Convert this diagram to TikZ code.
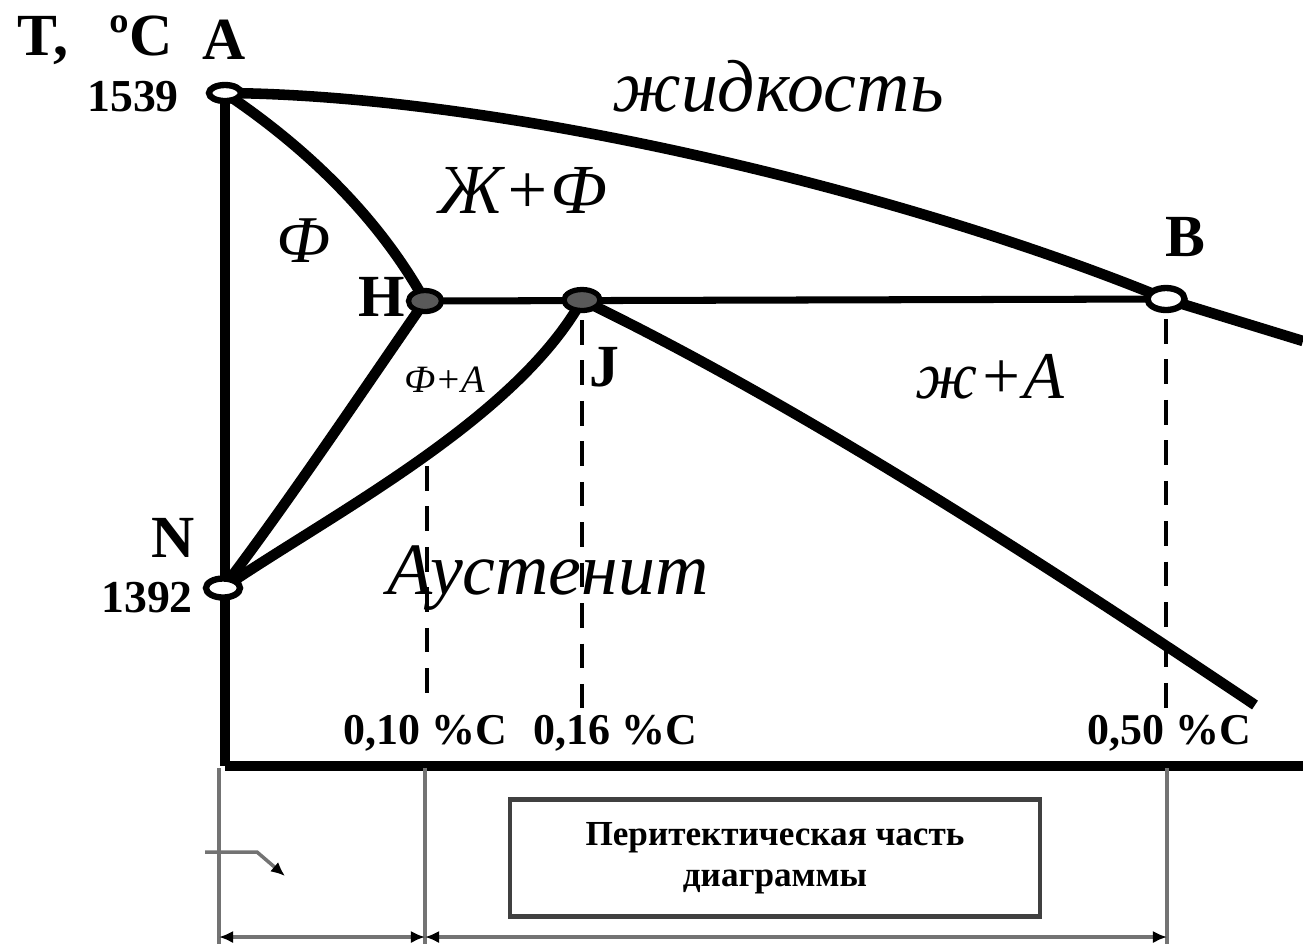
\documentclass[tikz,border=0pt]{standalone}
\usepackage{fontspec}
\setmainfont{Liberation Serif}
\usetikzlibrary{arrows.meta,positioning,shapes.geometric,calc}

\begin{document}
\begin{tikzpicture}[x=0.01cm, y=-0.01cm,
  phaseline/.style={line width=3pt},
  tieline/.style={line width=2pt},
  guide/.style={line width=1.2pt, dash pattern=on 7pt off 4.5pt},
  openpt/.style={ellipse, draw, line width=1.8pt, fill=white, inner sep=0pt, minimum width=0.34cm, minimum height=0.19cm},
  solidpt/.style={ellipse, draw, line width=1.5pt, fill=black!65, inner sep=0pt, minimum width=0.33cm, minimum height=0.21cm},
  ptlabel/.style={font=\bfseries\fontsize{17}{20}\selectfont, inner sep=0pt},
  templabel/.style={font=\bfseries\fontsize{13}{15}\selectfont, inner sep=0pt},
  phase/.style={font=\itshape\fontsize{21}{24}\selectfont, inner sep=0pt},
  pct/.style={font=\bfseries\fontsize{12.5}{14}\selectfont, inner sep=0pt},
  leader/.style={draw=black!55, line width=1pt},
  span/.style={leader, {Latex[length=4pt,width=3.5pt,black]}-{Latex[length=4pt,width=3.5pt,black]}}
]
  \useasboundingbox (0,0) rectangle (1303,944);

  % key points of the diagram
  \coordinate (pA) at (225,93);
  \coordinate (pN) at (223,588);
  \coordinate (pH) at (425,301);
  \coordinate (pJ) at (582,300);
  \coordinate (pB) at (1166,299);
  \coordinate (orig) at (225,766);
  \coordinate (xend) at (1303,766);
  \coordinate (liqend) at (1303,341);
  \coordinate (solend) at (1255,705);
  \coordinate (c10) at (427,466);
  \coordinate (lowend) at (0,708);

  % dashed composition guides
  \draw[guide] (c10) -- (c10 |- lowend);
  \draw[guide] (pJ) ++(0,20) -- (pJ |- lowend);
  \draw[guide] (pB) ++(0,20) -- (pB |- lowend);

  % phase boundaries
  \draw[phaseline] (pA) .. controls (500,95) and (900,190) .. (pB) -- (liqend);
  \draw[phaseline] (pA) .. controls (310,150) and (380,220) .. (pH);
  \draw[phaseline] (pN) .. controls (290,500) and (370,380) .. (pH);
  \draw[phaseline] (pN) .. controls (330,515) and (515,420) .. (pJ);
  \draw[phaseline] (pJ) .. controls (800,405) and (1055,571) .. (solend);
  \draw[tieline] (pH) -- (pB);

  % axes
  \draw[line width=3pt] (pA) -- (orig);
  \draw[line width=2.6pt] (orig) -- (xend);

  % points
  \node[openpt, minimum width=0.32cm, minimum height=0.16cm] (A) at (pA) {};
  \node[openpt] (N) at (pN) {};
  \node[openpt, minimum width=0.37cm, minimum height=0.22cm] (B) at (pB) {};
  \node[solidpt] (H) at (pH) {};
  \node[solidpt, minimum width=0.36cm] (J) at (pJ) {};

  % point and axis labels
  \node[ptlabel] (tlab) at (95,40) {T,\;\, ºC};
  \node[ptlabel] (Alab) at (224,40) {A};
  \node[templabel] (t1539) at (133,97) {1539};
  \node[ptlabel] (Nlab) at (173,538) {N};
  \node[templabel] (t1392) at (147,598) {1392};
  \node[ptlabel] (Hlab) at (382,297) {H};
  \node[ptlabel] (Jlab) at (604,367) {J};
  \node[ptlabel] (Blab) at (1185,237) {B};

  % phase regions
  \node[phase] (liq) at (778,86) {жидкость};
  \node[phase, font=\itshape\fontsize{20}{24}\selectfont] (lf) at (523,190) {Ж+Ф};
  \node[phase, font=\itshape\fontsize{19}{24}\selectfont] (ferr) at (303,241) {Ф};
  \node[phase, font=\itshape\fontsize{11}{13}\selectfont] (fa) at (445,380) {Ф+А};
  \node[phase, font=\itshape\fontsize{19}{24}\selectfont] (la) at (990,377) {ж+А};
  \node[phase] (aus) at (548,578) {Аустенит};

  % composition marks
  \node[pct] (p10) at (425,733) {0,10 \%C};
  \node[pct] (p16) at (615,733) {0,16 \%C};
  \node[pct] (p50) at (1169,733) {0,50 \%C};

  % lower panel
  \coordinate (b0) at (219,768);
  \coordinate (b1) at (425,768);
  \coordinate (b2) at (1167,768);
  \coordinate (floor) at (0,944);
  \coordinate (dimrow) at (0,937);
  \draw[leader] (b0) -- (b0 |- floor);
  \draw[leader] (b1) -- (b1 |- floor);
  \draw[leader] (b2) -- (b2 |- floor);
  \draw[span] (b0 |- dimrow) -- (b1 |- dimrow);
  \draw[span] (b1 |- dimrow) -- (b2 |- dimrow);

  \coordinate (k0) at (205,852);
  \coordinate (k1) at (257,852);
  \coordinate (k2) at (285,876);
  \draw[leader, -{Latex[length=4pt,width=3.5pt,black]}] (k0) -- (k1) -- (k2);

  \node[draw=black!75, line width=1.2pt, minimum width=5.3cm, minimum height=1.17cm,
    align=center, font=\bfseries\fontsize{10}{11.5}\selectfont] (peri) at (775,858)
    {Перитектическая часть\\диаграммы};
\end{tikzpicture}
\end{document}
